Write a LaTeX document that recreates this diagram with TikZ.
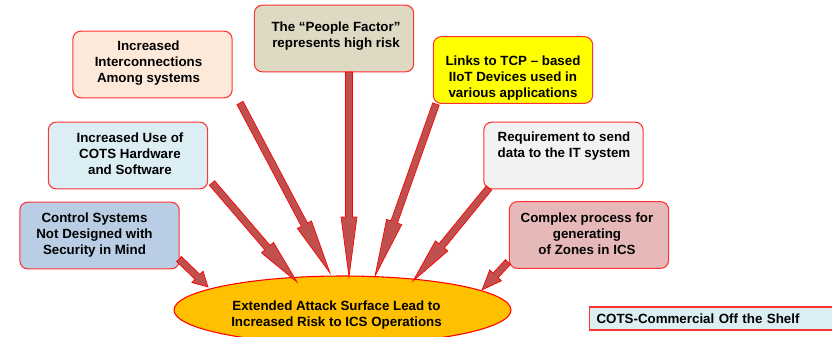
\documentclass[tikz,border=0pt]{standalone}
\usepackage{fontspec}
\setmainfont{Liberation Sans}
\usetikzlibrary{calc,shapes.geometric}

\definecolor{boxline}{HTML}{FF3333}
\definecolor{arrowfill}{HTML}{C0504D}
\definecolor{fillctrl}{HTML}{B9CDE5}
\definecolor{fillcots}{HTML}{DBEEF4}
\definecolor{fillinter}{HTML}{FDE9D9}
\definecolor{fillpeople}{HTML}{DDD9C3}
\definecolor{filllinks}{HTML}{FFFF00}
\definecolor{fillreq}{HTML}{F2F2F2}
\definecolor{fillzones}{HTML}{E6B9B8}
\definecolor{fillcore}{HTML}{FFC000}

% thick block arrow from #1 to #2 with a head #3 long
\newcommand{\blockarrow}[3]{%
  \coordinate (hb) at ($(#2)!#3!(#1)$);
  \draw[bigarrow]
    ($(#1)!2.6pt!90:(#2)$) -- ($(hb)!2.6pt!90:(#2)$) -- ($(hb)!6pt!90:(#2)$)
    -- (#2)
    -- ($(hb)!6pt!-90:(#2)$) -- ($(hb)!2.6pt!-90:(#2)$) -- ($(#1)!2.6pt!-90:(#2)$)
    -- cycle;}

\begin{document}
\begin{tikzpicture}[x=0.75pt,y=-0.75pt,
  box/.style={draw=boxline, line width=0.8pt, rounded corners=6pt,
    minimum width=119.5pt, minimum height=50pt, inner sep=0pt},
  txt/.style={align=center, inner sep=0pt,
    font=\fontsize{10}{12}\selectfont\bfseries},
  bigarrow/.style={draw=red, line width=0.5pt, fill=arrowfill, line join=miter},
  core/.style={ellipse, draw=red, line width=0.8pt, fill=fillcore,
    minimum width=252.75pt, minimum height=51pt, inner sep=0pt}]
\path[use as bounding box, clip] (0,0) rectangle (832,336);

% boxes
\node[box, fill=fillctrl]   (ctrl)   at (99.5,235.5) {};
\node[box, fill=fillcots]   (cots)   at (128,155.5)  {};
\node[box, fill=fillinter]  (inter)  at (152.5,64.5) {};
\node[box, fill=fillpeople] (people) at (334,38.5)   {};
\node[box, fill=filllinks]  (links)  at (513,70)     {};
\node[box, fill=fillreq]    (req)    at (563.5,155.5){};
\node[box, fill=fillzones]  (zones)  at (589,235)    {};

\node[txt] (ctrlt)   at ([shift={(-5,0)}]ctrl.center)   {Control Systems\\Not Designed with\\Security in Mind};
\node[txt] (cotst)   at ([shift={(2,-2)}]cots.center)   {Increased Use of\\COTS Hardware\\and Software};
\node[txt] (intert)  at ([shift={(-4,-1.5)}]inter.center) {Increased\\Interconnections\\Among systems};
\node[txt] (peoplet) at ([shift={(2,-2)}]people.center) {The “People Factor”\\represents high risk};
\node[txt] (linkst)  at ([shift={(0,8)}]links.center)   {Links to TCP – based\\IIoT Devices used in\\various applications};
\node[txt] (reqt)    at ([shift={(0.5,-9)}]req.center)  {Requirement to send\\data to the IT system};
\node[txt] (zonest)  at ([shift={(-2,-1)}]zones.center) {Complex process for\\generating\\of Zones in ICS};

% central ellipse
\node[core] (core) at (342.5,310) {};
\node[txt] (coret) at ([shift={(-6,5)}]core.center) {Extended Attack Surface Lead to\\Increased Risk to ICS Operations};

% legend
\node[draw=boxline, line width=0.8pt, fill=fillcots, anchor=west,
  minimum width=182.25pt, minimum height=17.25pt, inner xsep=5.25pt,
  text width=171.75pt, align=left, font=\fontsize{10}{12}\selectfont\bfseries]
  (legend) at (589,318.5) {COTS-Commercial Off the Shelf};

% arrow end points
\coordinate (s1) at (179,259);  \coordinate (t1) at (208,287);
\coordinate (s2) at (212,183);  \coordinate (t2) at (297,282);
\coordinate (s3) at (240,103);  \coordinate (t3) at (330,273);
\coordinate (s4) at (349,72);   \coordinate (t4) at (349,277);
\coordinate (s5) at (436,104);  \coordinate (t5) at (375,276);
\coordinate (s6) at (489,188);  \coordinate (t6) at (413,281);
\coordinate (s7) at (508,262);  \coordinate (t7) at (482,290);

\blockarrow{s1}{t1}{11pt}
\blockarrow{s2}{t2}{34pt}
\blockarrow{s3}{t3}{41pt}
\blockarrow{s4}{t4}{45pt}
\blockarrow{s5}{t5}{43pt}
\blockarrow{s6}{t6}{34pt}
\blockarrow{s7}{t7}{15pt}
\end{tikzpicture}
\end{document}
